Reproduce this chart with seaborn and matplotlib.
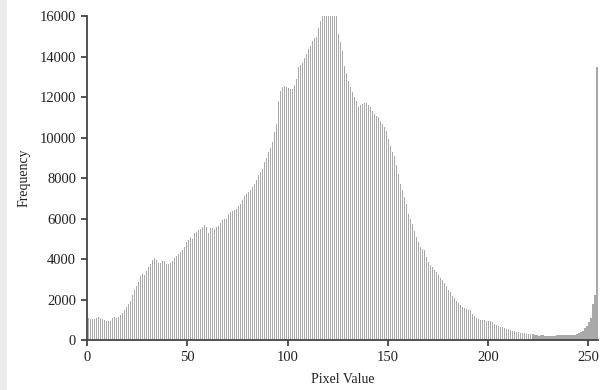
import matplotlib
matplotlib.use('Agg')
import matplotlib.pyplot as plt
import seaborn as sns
import pandas as pd
from matplotlib.patches import Rectangle

# Pixel value bins (0..254, last bin also holds 255) and counts
pixel_values = list(range(255))
frequency = [
    1100, 1050, 1040, 1060, 1080, 1120, 1100, 1060, 1000, 950,
    940, 960, 1100, 1120, 1100, 1130, 1250, 1360, 1480, 1640,
    1800, 1950, 2220, 2460, 2650, 2850, 3170, 3250, 3200, 3420,
    3600, 3740, 3940, 4030, 3950, 3810, 3800, 3900, 3900, 3750,
    3740, 3810, 3880, 4030, 4150, 4250, 4350, 4430, 4600, 4840,
    4950, 5090, 5000, 5270, 5340, 5450, 5500, 5580, 5660, 5600,
    5290, 5550, 5520, 5500, 5580, 5610, 5780, 5910, 5960, 6000,
    6240, 6320, 6360, 6400, 6490, 6600, 6730, 6900, 7100, 7230,
    7300, 7390, 7550, 7720, 7900, 8130, 8300, 8460, 8780, 9000,
    9280, 9500, 9770, 10260, 10670, 11820, 12300, 12510, 12560, 12500,
    12440, 12400, 12390, 12600, 12890, 13460, 13600, 13700, 13950, 14120,
    14370, 14500, 14780, 14900, 14940, 15430, 15760, 16100, 16300, 16400,
    16500, 16400, 16300, 16200, 16050, 15110, 14700, 14290, 13550, 13200,
    12810, 12500, 12230, 12000, 11820, 11490, 11600, 11660, 11680, 11690,
    11600, 11490, 11300, 11170, 11050, 11000, 10800, 10670, 10510, 10300,
    9930, 9600, 9280, 9110, 8620, 8200, 7720, 7400, 7060, 6700,
    6240, 6000, 5750, 5400, 5090, 4850, 4600, 4500, 4430, 4100,
    3850, 3700, 3600, 3450, 3350, 3200, 3050, 2950, 2800, 2650,
    2460, 2350, 2200, 2070, 1950, 1850, 1720, 1650, 1600, 1550,
    1500, 1480, 1300, 1200, 1100, 1020, 1000, 985, 970, 960,
    950, 920, 900, 790, 740, 690, 650, 625, 575, 550,
    525, 490, 460, 430, 410, 380, 360, 350, 330, 320,
    300, 290, 280, 250, 230, 210, 230, 250, 220, 200,
    200, 210, 210, 220, 230, 250, 250, 240, 250, 250,
    250, 250, 260, 270, 300, 330, 380, 450, 600, 700,
    900, 1070, 1800, 2220, 13500,
]
x_ticks = [0, 50, 100, 150, 200, 250]
y_ticks = list(range(0, 16001, 2000))

df = pd.DataFrame({'pixel': pixel_values, 'freq': frequency})

sns.set_style('ticks')
plt.rcParams['font.family'] = ['Liberation Serif', 'DejaVu Serif']

fig = plt.figure(figsize=(6.01, 3.90), dpi=100)
ax = fig.add_axes([0.1452, 0.128, 0.8498, 0.831])

sns.histplot(data=df, x='pixel', weights='freq', bins=255, binrange=(0, 255),
             shrink=0.6, color='#a9a9a9', edgecolor='none',
             linewidth=0, alpha=1, ax=ax)

ax.set_xlim(0, 255)
ax.set_ylim(0, 16000)
ax.set_xticks(x_ticks)
ax.set_yticks(y_ticks)
ax.tick_params(axis='both', labelsize=10.5, length=4, width=1.2,
               color='#333333', pad=4, labelcolor='#222222')
sns.despine(ax=ax)
for s in ['left', 'bottom']:
    ax.spines[s].set_color('#444444')
    ax.spines[s].set_linewidth(1.3)

ax.set_xlabel('Pixel Value', fontsize=10, color='#222222', labelpad=6)
ax.set_ylabel('Frequency', fontsize=10, color='#222222', labelpad=7)

# light grey strip at the left edge of the picture
fig.patches.append(Rectangle((0, 0), 7 / 601, 1, transform=fig.transFigure,
                             facecolor='#ebebeb', edgecolor='none', zorder=-1))

fig.savefig('out.png', dpi=100)
